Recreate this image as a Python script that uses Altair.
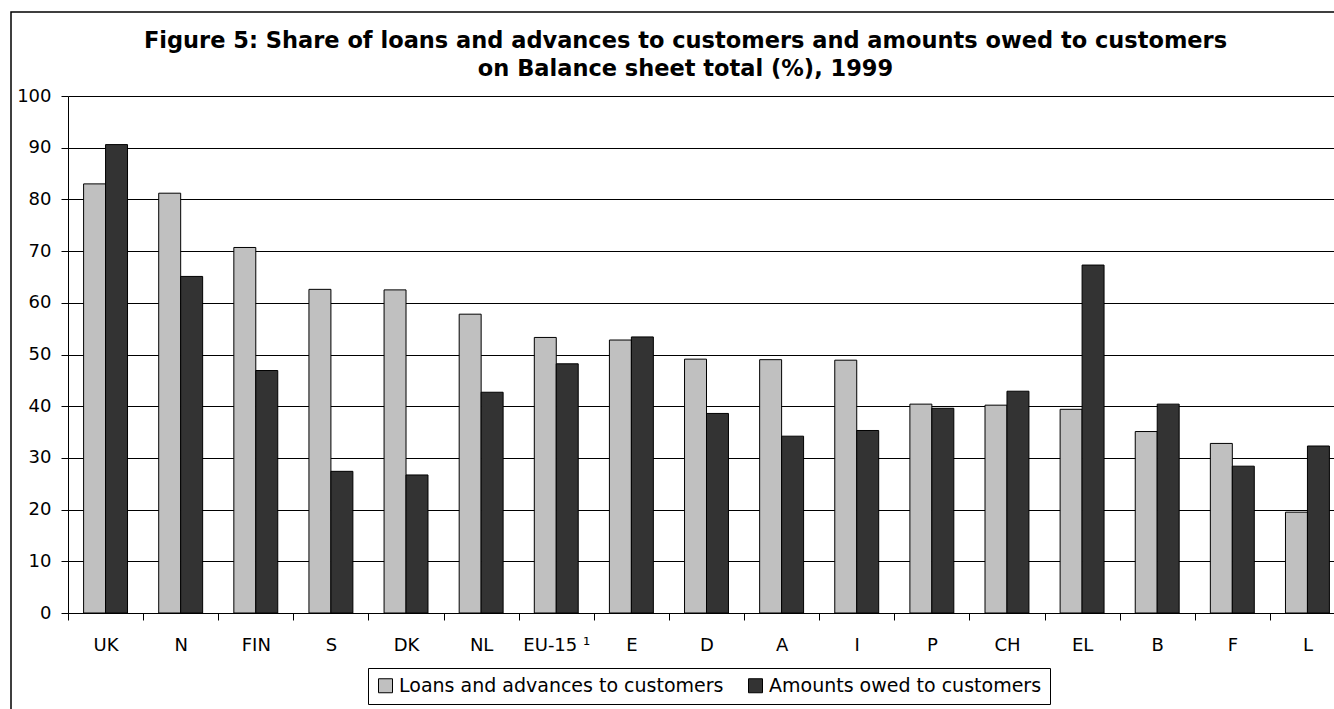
import altair as alt
import pandas as pd

countries = ["UK", "N", "FIN", "S", "DK", "NL", "EU-15 ¹", "E", "D", "A", "I",
             "P", "CH", "EL", "B", "F", "L"]
loans = [83.0, 81.2, 70.7, 62.6, 62.5, 57.8, 53.3, 52.8, 49.1, 49.0, 48.9,
         40.4, 40.2, 39.4, 35.1, 32.8, 19.5]
owed = [90.6, 65.1, 46.9, 27.4, 26.7, 42.7, 48.2, 53.4, 38.6, 34.2, 35.3,
        39.6, 42.9, 67.3, 40.4, 28.4, 32.3]
series = ["Loans and advances to customers", "Amounts owed to customers"]
colors = ["#C0C0C0", "#333333"]
y_ticks = list(range(0, 101, 10))
title_lines = ["Figure 5: Share of loans and advances to customers and amounts owed to customers",
               "on Balance sheet total (%), 1999"]

rows = []
for c, l, o in zip(countries, loans, owed):
    rows.append({"country": c, "series": series[0], "value": l})
    rows.append({"country": c, "series": series[1], "value": o})
df = pd.DataFrame(rows)

W = 1277
H = 517
FONT = "DejaVu Sans"

bars = alt.Chart(df).mark_bar(stroke="black", strokeWidth=1).encode(
    x=alt.X("country:N", sort=countries,
            scale=alt.Scale(paddingInner=0, paddingOuter=0),
            axis=alt.Axis(title=None, labelAngle=0, tickBand="extent", tickSize=7,
                          labelPadding=16, domainColor="black", tickColor="black",
                          labelFontSize=18, labelFont=FONT, labelColor="black", grid=False)),
    xOffset=alt.XOffset("series:N", sort=series,
                        scale=alt.Scale(paddingInner=0, paddingOuter=0.71)),
    y=alt.Y("value:Q", scale=alt.Scale(domain=[0, 100], nice=False),
            axis=alt.Axis(values=y_ticks, title=None, tickSize=7, labelPadding=10,
                          domainColor="black", tickColor="black", gridColor="black",
                          gridWidth=1, labelFontSize=18, labelFont=FONT, labelColor="black")),
    color=alt.Color("series:N", sort=series,
                    scale=alt.Scale(domain=series, range=colors),
                    legend=alt.Legend(title=None, orient="none", legendX=300, legendY=572,
                                      direction="horizontal", symbolType="square",
                                      symbolSize=196, symbolStrokeColor="black",
                                      symbolStrokeWidth=1, labelFontSize=19, labelFont=FONT,
                                      labelColor="black", labelLimit=500,
                                      strokeColor="black", padding=8,
                                      columnPadding=22, labelOffset=4, fillColor="white")),
)

frame = alt.Chart(alt.Data(values=[{}])).mark_rect(
    fillOpacity=0, stroke="black", strokeWidth=1.5
).encode(
    x=alt.value(-57), x2=alt.value(W + 60), y=alt.value(-84), y2=alt.value(H + 200)
)

chart = alt.layer(frame, bars).properties(
    width=W, height=H,
    title=alt.TitleParams(text=title_lines, font=FONT, fontSize=22.5, fontWeight="bold",
                          anchor="middle", offset=17, lineHeight=28, dx=-21, dy=86,
                          color="black"),
    autosize=alt.AutoSizeParams(type="none"),
    padding={"left": 68, "top": 96, "right": -11, "bottom": 96},
    background="white",
).configure_view(stroke="transparent")

chart.save("out.html", embed_options={"renderer": "svg", "actions": False})
